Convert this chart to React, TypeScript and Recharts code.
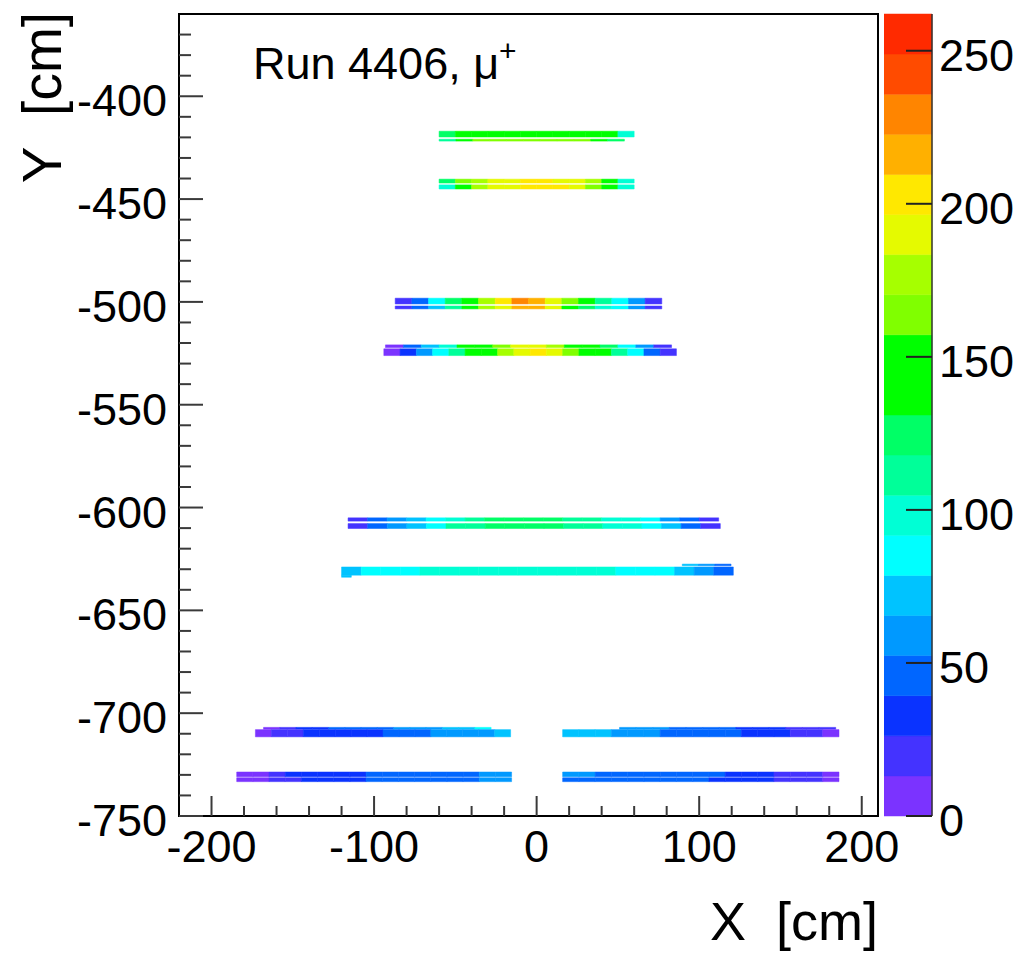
import React from 'react';
import { ComposedChart, XAxis, YAxis, ReferenceArea } from 'recharts';

const FONT = '"Liberation Sans", Arial, Helvetica, sans-serif';

// Axes
const X_DOMAIN = [-220, 210];
const Y_DOMAIN = [-750, -360];
const X_TICKS = [-200, -180, -160, -140, -120, -100, -80, -60, -40, -20, 0, 20, 40, 60, 80, 100, 120, 140, 160, 180, 200];
const Y_TICKS = [-750, -740, -730, -720, -710, -700, -690, -680, -670, -660, -650, -640, -630, -620, -610, -600, -590, -580, -570, -560, -550, -540, -530, -520, -510, -500, -490, -480, -470, -460, -450, -440, -430, -420, -410, -400, -390, -380, -370];

// Colour scale
const Z_MAX = 262;
const Z_TICKS = [0, 50, 100, 150, 200, 250];
const PALETTE = [
  '#7B33FF', '#4433FF', '#0A33FF', '#0066FF', '#0099FF',
  '#00C3FF', '#00FFFF', '#00FFD5', '#00FF99', '#00FF66',
  '#00FF00', '#00FF00', '#80FF00', '#A6FF00', '#E5FA00',
  '#FFE800', '#FFB000', '#FF8500', '#FF4B00', '#FF2A00',
];

// Hit counts along each strip row (left to right)
const S1A = [120, 140, 145, 150, 148, 155, 150, 152, 148, 145, 140, 100];
const S1B = [105, 150, 160, 165, 160, 165, 160, 162, 158, 150, 125];
const S2A = [130, 160, 175, 185, 195, 200, 200, 195, 190, 175, 150, 100];
const S2B = [100, 155, 175, 190, 195, 205, 205, 200, 190, 170, 140, 95];
const S3A = [18, 45, 80, 120, 150, 180, 200, 225, 220, 190, 160, 140, 105, 90, 60, 25];
const S3B = [15, 40, 75, 115, 145, 175, 195, 220, 210, 185, 150, 130, 100, 85, 55, 20];
const S4A = [10, 40, 70, 100, 135, 150, 170, 185, 185, 175, 150, 140, 120, 90, 55, 25];
const S4B = [12, 35, 55, 80, 115, 135, 150, 175, 195, 200, 185, 160, 145, 135, 105, 85, 50, 20];
const S5A = [15, 40, 55, 70, 85, 100, 115, 120, 125, 125, 120, 115, 110, 100, 95, 85, 65, 50, 25];
const S5B = [15, 45, 60, 75, 90, 105, 115, 125, 125, 120, 120, 115, 105, 100, 95, 85, 70, 50, 25];
const S6 = [70, 80, 85, 90, 92, 95, 95, 100, 98, 100, 98, 95, 95, 92, 90, 88, 85, 75, 65, 50];
const S6_TOP = [70, 60, 50];
const S6_BOT = [70];
const S7A_L = [12, 18, 28, 35, 40, 42, 45, 50, 55, 60, 65, 70, 75, 85];
const S7B_L = [10, 15, 22, 30, 32, 35, 36, 38, 42, 48, 52, 55, 58, 62, 65, 68];
const S7A_R = [65, 60, 55, 52, 48, 45, 42, 38, 35, 30, 25, 20, 15];
const S7B_R = [70, 68, 66, 62, 56, 54, 52, 50, 45, 42, 40, 38, 35, 30, 22, 15, 10];
const S8A_L = [8, 12, 20, 28, 32, 34, 36, 38, 40, 42, 44, 46, 48, 50, 52, 55, 58];
const S8B_L = [8, 10, 15, 22, 28, 32, 35, 38, 40, 42, 44, 46, 48, 50, 52, 55, 58];
const S8A_R = [55, 55, 52, 52, 50, 48, 46, 44, 42, 40, 36, 32, 28, 25, 20, 15, 12];
const S8B_R = [50, 52, 50, 48, 47, 45, 44, 42, 40, 38, 34, 30, 27, 24, 18, 14, 12];

// Row extents: [yLow, yHigh], [xStart, xEnd]
const ROWS = [
  { y: [-419.8, -417.0], x: [-60, 60], counts: S1A },
  { y: [-421.8, -420.9], x: [-60, 54], counts: S1B },
  { y: [-442.2, -440.3], x: [-60, 60], counts: S2A },
  { y: [-445.1, -443.1], x: [-60, 60], counts: S2B },
  { y: [-501.0, -498.2], x: [-87, 77], counts: S3A },
  { y: [-503.4, -502.0], x: [-87, 77], counts: S3B },
  { y: [-522.2, -520.9], x: [-93, 83], counts: S4A },
  { y: [-526.1, -522.8], x: [-94, 86], counts: S4B },
  { y: [-606.6, -605.0], x: [-116, 112], counts: S5A },
  { y: [-610.2, -607.8], x: [-116, 113], counts: S5B },
  { y: [-628.3, -627.5], x: [89.6, 119.6], counts: S6_TOP },
  { y: [-632.9, -628.9], x: [-120, 121], counts: S6 },
  { y: [-633.9, -632.9], x: [-120, -114], counts: S6_BOT },
  { y: [-707.8, -706.9], x: [-168, -28], counts: S7A_L },
  { y: [-711.5, -708.0], x: [-173, -16], counts: S7B_L },
  { y: [-707.8, -706.9], x: [51, 184], counts: S7A_R },
  { y: [-711.5, -708.0], x: [16, 186], counts: S7B_R },
  { y: [-730.9, -728.6], x: [-184.5, -15.4], counts: S8A_L },
  { y: [-733.3, -731.4], x: [-184.5, -15.4], counts: S8B_L },
  { y: [-730.9, -728.6], x: [16, 186], counts: S8A_R },
  { y: [-733.3, -731.4], x: [16, 186], counts: S8B_R },
];

function colorFor(v: number) {
  const step = Z_MAX / PALETTE.length;
  const i = Math.max(0, Math.min(PALETTE.length - 1, Math.floor(v / step)));
  return PALETTE[i];
}

const CELLS = ROWS.flatMap((r) => {
  const w = (r.x[1] - r.x[0]) / r.counts.length;
  return r.counts.map((c, i) => ({
    x1: r.x[0] + i * w,
    x2: r.x[0] + (i + 1) * w,
    y1: r.y[0],
    y2: r.y[1],
    fill: colorFor(c),
  }));
});

const BANDS = PALETTE.map((c, i) => ({
  y1: (i * Z_MAX) / PALETTE.length,
  y2: ((i + 1) * Z_MAX) / PALETTE.length,
  fill: c,
}));

const TICK_COLOR = '#3a3a3a';

const XTick = (props: any) => {
  const { x, y, payload } = props;
  const v = payload.value;
  const major = v % 100 === 0;
  return (
    <g>
      <line x1={x} x2={x} y1={y} y2={y - (major ? 20 : 10)} stroke={TICK_COLOR} strokeWidth={2} />
      {major && (
        <text x={x} y={y + 46} textAnchor="middle" fontSize={45} fontFamily={FONT} fill="#000">
          {String(v)}
        </text>
      )}
    </g>
  );
};

const YTick = (props: any) => {
  const { x, y, payload } = props;
  const v = payload.value;
  const major = v % 50 === 0;
  return (
    <g>
      <line x1={x} x2={x + (major ? 24 : 12)} y1={y} y2={y} stroke={TICK_COLOR} strokeWidth={2} />
      {major && (
        <text x={x - 12} y={y + 20} textAnchor="end" fontSize={45} fontFamily={FONT} fill="#000">
          {String(v)}
        </text>
      )}
    </g>
  );
};

const ZTick = (props: any) => {
  const { x, y, payload } = props;
  return (
    <g>
      <line x1={x - 26} x2={x} y1={y} y2={y} stroke="#222" strokeWidth={2} />
      <text x={x + 7} y={y + 20} textAnchor="start" fontSize={45} fontFamily={FONT} fill="#000">
        {String(payload.value)}
      </text>
    </g>
  );
};

export default function App() {
  return (
    <div style={{ position: 'absolute', left: 0, top: 0, width: 1031, height: 953, background: '#fff', fontFamily: FONT }}>
      <div style={{ position: 'absolute', left: 0, top: 0 }}>
        <ComposedChart width={1031} height={953} margin={{ top: 14, right: 153, bottom: 0, left: 0 }}>
          <XAxis
            type="number"
            dataKey="x"
            domain={X_DOMAIN}
            allowDataOverflow
            ticks={X_TICKS}
            interval={0}
            axisLine={false}
            tickLine={false}
            tickSize={0}
            tickMargin={0}
            height={137}
            tick={XTick}
          />
          <YAxis
            type="number"
            dataKey="y"
            domain={Y_DOMAIN}
            allowDataOverflow
            ticks={Y_TICKS}
            interval={0}
            axisLine={false}
            tickLine={false}
            tickSize={0}
            tickMargin={0}
            width={179}
            tick={YTick}
          />
          {CELLS.map((c, i) => (
            <ReferenceArea
              key={'c' + i}
              x1={c.x1}
              x2={c.x2}
              y1={c.y1}
              y2={c.y2}
              fill={c.fill}
              fillOpacity={1}
              stroke={c.fill}
              strokeWidth={0.5}
              ifOverflow="visible"
            />
          ))}
          <ReferenceArea
            x1={X_DOMAIN[0]}
            x2={X_DOMAIN[1]}
            y1={Y_DOMAIN[0]}
            y2={Y_DOMAIN[1]}
            fill="none"
            fillOpacity={0}
            stroke="#000"
            strokeWidth={2}
            ifOverflow="visible"
          />
        </ComposedChart>
      </div>
      <div style={{ position: 'absolute', left: 884, top: 0 }}>
        <ComposedChart width={147} height={953} margin={{ top: 14, right: 0, bottom: 137, left: 0 }}>
          <XAxis type="number" dataKey="x" domain={[0, 1]} allowDataOverflow hide />
          <YAxis
            type="number"
            dataKey="z"
            orientation="right"
            domain={[0, Z_MAX]}
            allowDataOverflow
            ticks={Z_TICKS}
            interval={0}
            axisLine={{ stroke: '#333', strokeWidth: 1.5 }}
            tickLine={false}
            tickSize={0}
            tickMargin={0}
            width={99}
            tick={ZTick}
          />
          {BANDS.map((b, i) => (
            <ReferenceArea
              key={'b' + i}
              x1={0}
              x2={1}
              y1={b.y1}
              y2={b.y2}
              fill={b.fill}
              fillOpacity={1}
              stroke={b.fill}
              strokeWidth={0.5}
              ifOverflow="visible"
            />
          ))}
        </ComposedChart>
      </div>
      <svg width={1031} height={953} style={{ position: 'absolute', left: 0, top: 0, pointerEvents: 'none' }}>
        <text x={253} y={79} fontSize={45} fontFamily={FONT} fill="#000">
          {'Run 4406, μ'}
          <tspan dy={-18} fontSize={30}>+</tspan>
        </text>
        <text x={878} y={940} textAnchor="end" fontSize={54} fontFamily={FONT} fill="#000">
          {'X\u00A0\u00A0[cm]'}
        </text>
        <text
          x={61}
          y={12}
          textAnchor="end"
          fontSize={55}
          fontFamily={FONT}
          fill="#000"
          transform="rotate(-90 61 12)"
        >
          {'Y\u00A0\u00A0[cm]'}
        </text>
      </svg>
    </div>
  );
}
